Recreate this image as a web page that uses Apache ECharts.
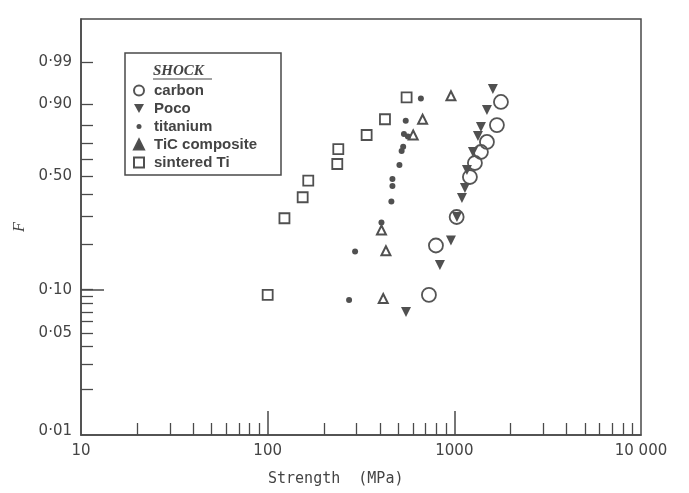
<!DOCTYPE html>
<html>
<head>
<meta charset="utf-8">
<title>Weibull plot</title>
<script src="https://cdn.jsdelivr.net/npm/echarts@6/dist/echarts.min.js"></script>
</head>
<body style="margin:0;background:#fff">
<div id="main" style="width:689px;height:493px;"></div>
<script type="text/javascript">
// strength (MPa) and failure probability F
var carbonS = [731, 797, 1029, 1212, 1289, 1388, 1495, 1691, 1777];
var carbonF = [0.092, 0.197, 0.297, 0.496, 0.579, 0.646, 0.707, 0.803, 0.908];
var pocoS = [551, 837, 959, 1033, 1098, 1140, 1168, 1258, 1338, 1388, 1495, 1609];
var pocoF = [0.070, 0.147, 0.212, 0.297, 0.383, 0.435, 0.537, 0.646, 0.742, 0.793, 0.876, 0.948];
var titS = [273, 294, 407, 460, 466, 466, 508, 522, 532, 537, 564, 549, 662];
var titF = [0.085, 0.180, 0.275, 0.366, 0.446, 0.485, 0.567, 0.652, 0.678, 0.753, 0.739, 0.826, 0.920];
var ticS = [959, 676, 602, 407, 430, 416];
var ticF = [0.929, 0.833, 0.748, 0.247, 0.182, 0.087];
var sintS = [555, 425, 339, 239, 236, 165, 154, 123, 100];
var sintF = [0.924, 0.833, 0.748, 0.664, 0.573, 0.475, 0.387, 0.292, 0.092];

// axes
var yLabelF = [0.01, 0.05, 0.10, 0.50, 0.90, 0.99];
var yLabelText = ['0·01', '0·05', '0·10', '0·50', '0·90', '0·99'];
var yTickF = [0.02, 0.03, 0.04, 0.05, 0.06, 0.07, 0.08, 0.09, 0.10, 0.20, 0.30, 0.40, 0.50, 0.60, 0.70, 0.80, 0.90, 0.99];
var xLabelVals = [10, 100, 1000, 10000];
var xLabelText = ['10', '100', '1000', '10 000'];
var xMinorTicks = [20, 30, 40, 50, 60, 70, 80, 90, 200, 300, 400, 500, 600, 700, 800, 900,
                   2000, 3000, 4000, 5000, 6000, 7000, 8000, 9000];
var xMajorTicks = [100, 1000];

// Weibull probability scale
function weib(f) { return Math.log(-Math.log(1 - f)); }
function pts(s, f) {
    return s.map(function (v, i) { return [v, weib(f[i])]; });
}

var ink = '#4a4a4a';
var yMin = -4.667, yMax = 2.249;

var chart = echarts.init(document.getElementById('main'));

var option = {
    animation: false,
    grid: { left: 81, right: 48, top: 19, bottom: 58, show: true, borderColor: ink, borderWidth: 1.5 },
    legend: {
        orient: 'vertical',
        left: 133,
        top: 83,
        itemWidth: 10,
        itemHeight: 10,
        itemGap: 3,
        padding: 0,
        textStyle: { fontFamily: 'Liberation Sans', fontWeight: 'bold', fontSize: 15, color: '#444',
                     lineHeight: 14, padding: [0, 0, 0, 5] },
        data: [
            { name: 'carbon' },
            { name: 'Poco', icon: 'path://M0,0L10,0L5,9Z' },
            { name: 'titanium', icon: 'path://M0,0M10,10M5,2.5A2.5,2.5,0,1,1,5,7.5A2.5,2.5,0,1,1,5,2.5Z' },
            { name: 'TiC composite', itemStyle: { color: ink } },
            { name: 'sintered Ti' }
        ]
    },
    graphic: [
        { type: 'rect', shape: { x: 125, y: 53, width: 156, height: 122 },
          style: { fill: 'none', stroke: ink, lineWidth: 1.5 } },
        { type: 'text', x: 153, y: 64,
          style: { text: 'SHOCK', font: 'italic bold 15px "Liberation Serif"', fill: '#444' } },
        { type: 'line', shape: { x1: 153, y1: 79, x2: 212, y2: 79 },
          style: { stroke: '#444', lineWidth: 1.2 } },
        { type: 'text', x: 268, y: 472,
          style: { text: 'Strength  (MPa)', font: '15px "DejaVu Sans Mono"', fill: '#444' } }
    ],
    xAxis: [
        {
            type: 'log', logBase: 10, min: 10, max: 10000,
            axisLine: { onZero: false, lineStyle: { color: ink, width: 1.5 } },
            splitLine: { show: false },
            axisTick: { inside: true, length: 12, customValues: xMinorTicks, lineStyle: { color: ink, width: 1.3 } },
            axisLabel: {
                customValues: xLabelVals, margin: 9,
                fontFamily: 'DejaVu Sans', fontSize: 15, color: '#444',
                formatter: function (v) {
                    var i = xLabelVals.indexOf(Math.round(v));
                    return i >= 0 ? xLabelText[i] : '';
                }
            }
        },
        {
            type: 'log', logBase: 10, min: 10, max: 10000, position: 'bottom',
            axisLine: { show: false, onZero: false },
            splitLine: { show: false },
            axisTick: { inside: true, length: 24, customValues: xMajorTicks, lineStyle: { color: ink, width: 1.5 } },
            axisLabel: { show: false }
        }
    ],
    yAxis: [
        {
            type: 'value', min: yMin, max: yMax,
            name: 'F', nameLocation: 'middle', nameGap: 46, nameRotate: 90,
            nameTextStyle: { fontFamily: 'Liberation Serif', fontStyle: 'italic', fontSize: 16, color: '#444' },
            axisLine: { show: true, onZero: false, lineStyle: { color: ink, width: 1.5 } },
            splitLine: { show: false },
            axisTick: { inside: true, length: 12, customValues: yTickF.map(weib), lineStyle: { color: ink, width: 1.3 } },
            axisLabel: {
                customValues: yLabelF.map(weib), margin: 9,
                fontFamily: 'DejaVu Sans', fontSize: 15, color: '#444',
                formatter: function (v) {
                    for (var i = 0; i < yLabelF.length; i++) {
                        if (Math.abs(weib(yLabelF[i]) - v) < 1e-6) return yLabelText[i];
                    }
                    return '';
                }
            }
        },
        {
            type: 'value', min: yMin, max: yMax, position: 'left',
            axisLine: { show: false, onZero: false },
            splitLine: { show: false },
            axisTick: { inside: true, length: 23, customValues: [weib(0.10)], lineStyle: { color: ink, width: 1.5 } },
            axisLabel: { show: false }
        }
    ],
    series: [
        {
            name: 'carbon', type: 'scatter', symbol: 'circle', symbolSize: 14,
            itemStyle: { color: 'rgba(0,0,0,0)', borderColor: '#555', borderWidth: 1.8, opacity: 1 },
            data: pts(carbonS, carbonF)
        },
        {
            name: 'Poco', type: 'scatter', symbol: 'triangle', symbolRotate: 180, symbolSize: 10,
            itemStyle: { color: '#505050', opacity: 1 },
            data: pts(pocoS, pocoF)
        },
        {
            name: 'titanium', type: 'scatter', symbol: 'circle', symbolSize: 6,
            itemStyle: { color: '#505050', opacity: 1 },
            data: pts(titS, titF)
        },
        {
            name: 'TiC composite', type: 'scatter', symbol: 'triangle', symbolSize: 9,
            itemStyle: { color: 'rgba(0,0,0,0)', borderColor: '#505050', borderWidth: 2, opacity: 1 },
            data: pts(ticS, ticF)
        },
        {
            name: 'sintered Ti', type: 'scatter', symbol: 'rect', symbolSize: 10,
            itemStyle: { color: 'rgba(0,0,0,0)', borderColor: '#505050', borderWidth: 1.8, opacity: 1 },
            data: pts(sintS, sintF)
        }
    ]
};

if (option && typeof option === 'object') {
    chart.setOption(option);
}
</script>
</body>
</html>
